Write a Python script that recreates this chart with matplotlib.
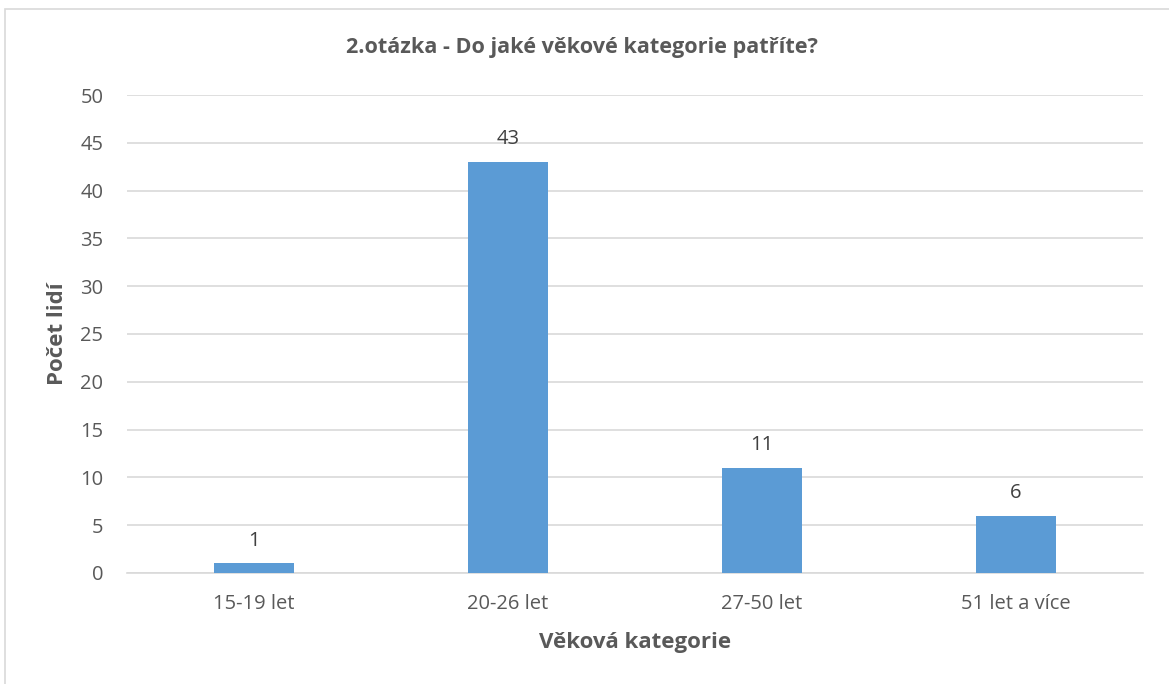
import matplotlib.pyplot as plt
from matplotlib.patches import Rectangle

categories = ["15-19 let", "20-26 let", "27-50 let", "51 let a více"]
counts = [1, 43, 11, 6]
y_ticks = [0, 5, 10, 15, 20, 25, 30, 35, 40, 45, 50]

bar_colour = "#5B9BD5"
grid_colour = "#D9D9D9"
text_colour = "#595959"

plt.rcParams["font.family"] = ["Open Sans", "DejaVu Sans"]

fig = plt.figure(figsize=(11.69, 6.84), dpi=100)
ax = fig.add_axes([0.1086, 0.1623, 0.8692, 0.6988])

x = range(len(categories))
bars = ax.bar(x, counts, width=0.315, color=bar_colour, zorder=3)

for rect, val in zip(bars, counts):
    ax.annotate(str(val), (rect.get_x() + rect.get_width() / 2, rect.get_height()),
                xytext=(0, 9), textcoords="offset points",
                ha="center", va="bottom", fontsize=14.5, color="#404040")

ax.set_xlim(-0.5, len(categories) - 0.5)
ax.set_ylim(0, 50)
ax.set_yticks(y_ticks)
ax.set_xticks(list(x))
ax.set_xticklabels(categories)
ax.yaxis.grid(True, color=grid_colour, linewidth=1.2, zorder=0)
ax.tick_params(axis="both", length=0, labelsize=14.5, labelcolor=text_colour)
ax.tick_params(axis="y", pad=17)
ax.tick_params(axis="x", pad=15)
for side in ["top", "right", "left"]:
    ax.spines[side].set_visible(False)
ax.spines["bottom"].set_color(grid_colour)
ax.spines["bottom"].set_linewidth(1.2)

ax.set_xlabel("Věková kategorie", fontsize=16, fontweight="bold",
              color=text_colour, labelpad=13)
ax.set_ylabel("Počet lidí", fontsize=16, fontweight="bold",
              color=text_colour, labelpad=9)
fig.text(0.4974, 0.931, "2.otázka - Do jaké věkové kategorie patříte?",
         ha="center", va="center", fontsize=15.6, fontweight="bold",
         color=text_colour)

fig.patches.append(Rectangle((5 / 1169, -0.1), 1.2, 1.1 - 9 / 684,
                             transform=fig.transFigure, fill=False,
                             edgecolor=grid_colour, linewidth=1.2))

fig.savefig("out.png", dpi=100)
